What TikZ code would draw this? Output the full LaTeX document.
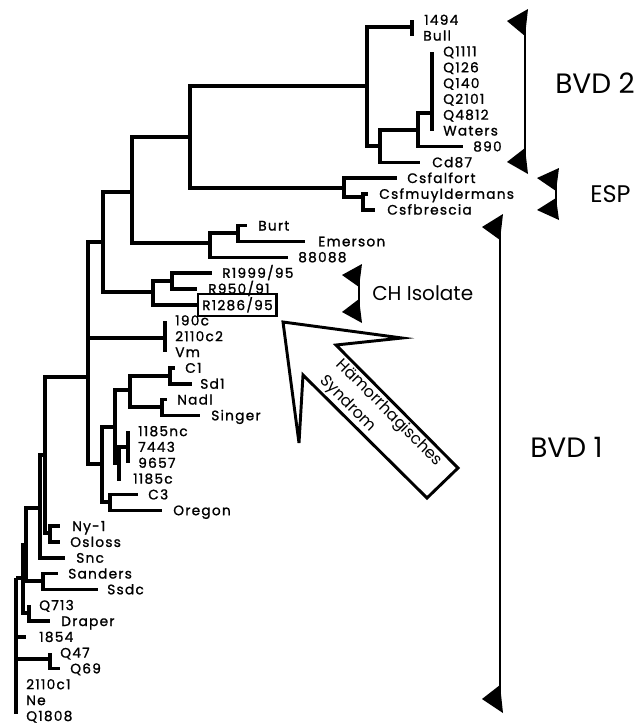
\documentclass[tikz,border=0pt]{standalone}
\usepackage{fontspec}
\setmainfont{Poppins}
\newfontfamily\lffam[LetterSpace=9,FakeBold=1.2]{Poppins}
\tikzset{
  tree/.style={line width=2.6pt},
  leaf/.style={anchor=base west, inner sep=0pt, yshift=-3.6pt, font=\lffam\fontsize{10.3}{11}\selectfont},
  boxleaf/.style={anchor=west, draw, line width=1.8pt, inner xsep=3pt, inner ysep=2.5pt, font=\lffam\fontsize{10.3}{11}\selectfont},
  biglab/.style={anchor=west, inner sep=0pt},
  brk/.style={line width=2.2pt},
  arrowshape/.style={line width=2.2pt, line join=miter}
}
\begin{document}
\begin{tikzpicture}[x=0.75pt,y=-0.75pt]
\useasboundingbox (0,0) rectangle (640,726);
\fill[white] (0,0) rectangle (640,726);
% ---------- internal nodes ----------
\coordinate (R0) at (16,578);
\coordinate (N2) at (23,578);
\coordinate (N3) at (26,545);
\coordinate (Qp) at (40,508);
\coordinate (Q) at (45,455);
\coordinate (Y) at (50,533);
\coordinate (SS) at (43,581);
\coordinate (QD) at (29,613);
\coordinate (QQ) at (50,659);
\coordinate (N) at (88,377);
\coordinate (K) at (103,242);
\coordinate (H) at (132,192);
\coordinate (E) at (190,137);
\coordinate (A) at (367,86);
\coordinate (AB) at (412,27);
\coordinate (B) at (380,146);
\coordinate (C) at (418,130);
\coordinate (D) at (432,113);
\coordinate (F) at (344,188);
\coordinate (G) at (363,197);
\coordinate (I) at (210,243);
\coordinate (J) at (238,233);
\coordinate (L) at (153,292);
\coordinate (M) at (172,281);
\coordinate (O) at (165,338);
\coordinate (P) at (102,464);
\coordinate (U) at (115,427);
\coordinate (R) at (130,390);
\coordinate (S) at (170,376);
\coordinate (T) at (162,407);
\coordinate (W) at (119,463);
\coordinate (X) at (128,447);
\coordinate (V) at (110,502);
% ---------- tips ----------
\coordinate (t1494) at (412,20);
\coordinate (tBull) at (412,35.8);
\coordinate (tQ1111) at (432,51.6);
\coordinate (tQ126) at (432,67.5);
\coordinate (tQ140) at (432,83.3);
\coordinate (tQ2101) at (432,99.1);
\coordinate (tQ4812) at (432,114.9);
\coordinate (tWaters) at (432,130.7);
\coordinate (t890) at (463,146.6);
\coordinate (tCd87) at (420,162.4);
\coordinate (tCsfalfort) at (397,178.2);
\coordinate (tCsfmuy) at (368,194);
\coordinate (tCsfbre) at (375,209.8);
\coordinate (tBurt) at (247,225.7);
\coordinate (tEmerson) at (305,241.5);
\coordinate (t88088) at (288,257.3);
\coordinate (tR1999) at (212,273.1);
\coordinate (tR950) at (197,288.9);
\coordinate (t190c) at (165,320.6);
\coordinate (t2110c2) at (165,336.4);
\coordinate (tVm) at (165,352.2);
\coordinate (tC1) at (175,368);
\coordinate (tSd1) at (192,383.9);
\coordinate (tNadl) at (167,399.7);
\coordinate (tSinger) at (200,415.5);
\coordinate (t1185nc) at (128,431.3);
\coordinate (t7443) at (128,447.1);
\coordinate (t9657) at (128,463);
\coordinate (t1185c) at (121,478.8);
\coordinate (tC3) at (138,494.6);
\coordinate (tOregon) at (162,510.4);
\coordinate (tNy1) at (60,526.2);
\coordinate (tOsloss) at (60,542.1);
\coordinate (tSnc) at (65,557.9);
\coordinate (tSanders) at (58,573.7);
\coordinate (tSsdc) at (98,589.5);
\coordinate (tQ713) at (29,605.3);
\coordinate (tDraper) at (50,621.2);
\coordinate (t1854) at (26,637);
\coordinate (tQ47) at (50,652.8);
\coordinate (tQ69) at (60,668.6);
\coordinate (t2110c1) at (16,684.4);
\coordinate (tNe) at (16,700.3);
\coordinate (tQ1808) at (16,714);
% ---------- labels ----------
\node[leaf] (l1494) at (424,20) {1494};
\node[leaf] (lBull) at (423,35.8) {Bull};
\node[leaf] (lQ1111) at (443,51.6) {Q1111};
\node[leaf] (lQ126) at (443,67.5) {Q126};
\node[leaf] (lQ140) at (443,83.3) {Q140};
\node[leaf] (lQ2101) at (443,99.1) {Q2101};
\node[leaf] (lQ4812) at (443,114.9) {Q4812};
\node[leaf] (lWaters) at (443,130.7) {Waters};
\node[leaf] (l890) at (473,146.6) {890};
\node[leaf] (lCd87) at (432,162.4) {Cd87};
\node[leaf] (lCsfalfort) at (407,178.2) {Csfalfort};
\node[leaf] (lCsfmuy) at (379,194) {Csfmuyldermans};
\node[leaf] (lCsfbre) at (387,209.8) {Csfbrescia};
\node[leaf] (lBurt) at (258,225.7) {Burt};
\node[leaf] (lEmerson) at (318,241.5) {Emerson};
\node[leaf] (l88088) at (298,257.3) {88088};
\node[leaf] (lR1999) at (222,273.1) {R1999/95};
\node[leaf] (lR950) at (208,288.9) {R950/91};
\node[boxleaf] (r1286) at (197,304.8) {R1286/95};
\node[leaf] (l190c) at (175,320.6) {190c};
\node[leaf] (l2110c2) at (175,336.4) {2110c2};
\node[leaf] (lVm) at (175,352.2) {Vm};
\node[leaf] (lC1) at (185,368) {C1};
\node[leaf] (lSd1) at (200,383.9) {Sd1};
\node[leaf] (lNadl) at (177,399.7) {Nadl};
\node[leaf] (lSinger) at (211,415.5) {Singer};
\node[leaf] (l1185nc) at (138,431.3) {1185nc};
\node[leaf] (l7443) at (138,447.1) {7443};
\node[leaf] (l9657) at (138,463) {9657};
\node[leaf] (l1185c) at (133,478.8) {1185c};
\node[leaf] (lC3) at (148,494.6) {C3};
\node[leaf] (lOregon) at (173,510.4) {Oregon};
\node[leaf] (lNy1) at (72,526.2) {Ny-1};
\node[leaf] (lOsloss) at (70,542.1) {Osloss};
\node[leaf] (lSnc) at (76,557.9) {Snc};
\node[leaf] (lSanders) at (68,573.7) {Sanders};
\node[leaf] (lSsdc) at (107,589.5) {Ssdc};
\node[leaf] (lQ713) at (39,605.3) {Q713};
\node[leaf] (lDraper) at (61,621.2) {Draper};
\node[leaf] (l1854) at (39,637) {1854};
\node[leaf] (lQ47) at (60,652.8) {Q47};
\node[leaf] (lQ69) at (70,668.6) {Q69};
\node[leaf] (l2110c1) at (26,684.4) {2110c1};
\node[leaf] (lNe) at (26,700.3) {Ne};
\node[leaf] (lQ1808) at (26,716.1) {Q1808};
% ---------- branches ----------
\foreach \p/\c in {R0/N2,R0/t1854,R0/QQ,R0/t2110c1,R0/tNe,R0/tQ1808,
  N2/N3,N2/QD,N3/Qp,N3/SS,Qp/Q,Qp/tSnc,Q/N,Q/Y,Y/tNy1,Y/tOsloss,
  SS/tSanders,SS/tSsdc,QD/tQ713,QD/tDraper,QQ/tQ47,QQ/tQ69,
  N/K,N/O,N/P,K/H,K/L,H/E,H/I,E/A,E/F,A/AB,A/B,AB/t1494,AB/tBull,
  B/C,B/tCd87,C/D,C/t890,D/tQ1111,D/tQ126,D/tQ140,D/tQ2101,D/tQ4812,D/tWaters,
  F/tCsfalfort,F/G,G/tCsfmuy,G/tCsfbre,I/J,I/t88088,J/tBurt,J/tEmerson,
  L/M,L/r1286.west,M/tR1999,M/tR950,O/t190c,O/t2110c2,O/tVm,
  P/U,P/V,U/R,U/W,R/S,R/T,S/tC1,S/tSd1,T/tNadl,T/tSinger,
  W/X,W/t1185c,X/t1185nc,X/t7443,X/t9657,V/tC3,V/tOregon}
  \draw[tree] (\p) |- (\c);
% ---------- brackets ----------
% BVD 2
\draw[brk] (525,12) -- (525,171);
\fill (528,9) -- (507,21) -- (525,36) -- cycle;
\fill (528,174) -- (507,162) -- (525,148) -- cycle;
% ESP
\draw[brk] (556,171) -- (556,217);
\fill (559,168) -- (537,178) -- (556,191) -- cycle;
\fill (559,220) -- (537,210) -- (556,198) -- cycle;
% CH Isolate
\draw[brk] (359,267) -- (359,320);
\fill (362,264) -- (342,275) -- (359,287) -- cycle;
\fill (362,323) -- (342,312) -- (359,299) -- cycle;
% BVD 1
\draw[brk] (500,217) -- (500,710);
\fill (503,214) -- (482,227) -- (500,240) -- cycle;
\fill (503,713) -- (482,699) -- (500,685) -- cycle;
% ---------- group labels ----------
\node[biglab, font=\fontsize{21}{24}\selectfont] (bvd2) at (555,83) {BVD 2};
\node[biglab, font=\fontsize{18}{22}\selectfont] (esp) at (590,194) {ESP};
\node[biglab, font=\fontsize{15}{18}\selectfont] (chiso) at (372,293) {CH Isolate};
\node[biglab, font=\fontsize{21}{24}\selectfont] (bvd1) at (530,447) {BVD 1};
% ---------- big arrow ----------
\draw[arrowshape] (283,322) -- (402,338) -- (336,345) -- (458,468) -- (427,498)
  -- (303,375) -- (299,443) -- cycle;
\node[rotate=-45, align=left, inner sep=0pt, font=\fontsize{12}{17}\selectfont] (hs) at (381,421)
  {Hämorrhagisches\\Syndrom};
\end{tikzpicture}
\end{document}
